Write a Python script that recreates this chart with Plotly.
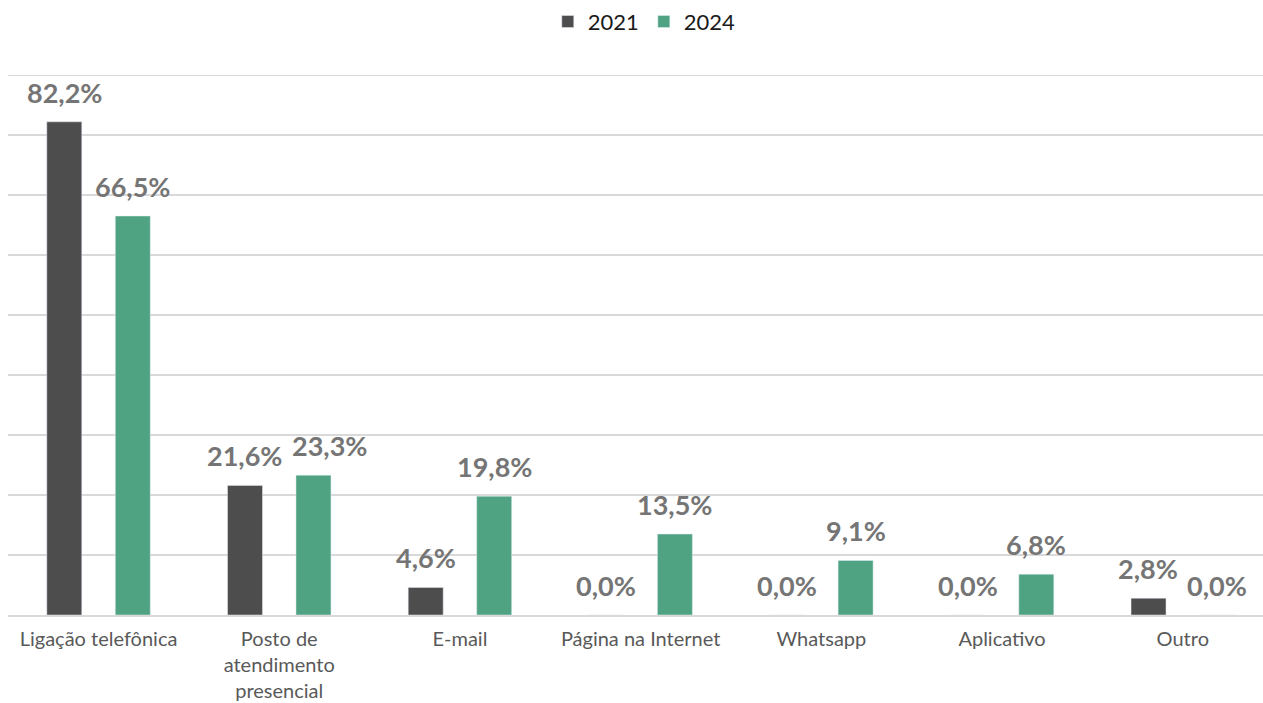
import plotly.graph_objects as go

categories = [
    "Ligação telefônica",
    "Posto de<br>atendimento<br>presencial",
    "E-mail",
    "Página na Internet",
    "Whatsapp",
    "Aplicativo",
    "Outro",
]
values_2021 = [82.2, 21.6, 4.6, 0.0, 0.0, 0.0, 2.8]
values_2024 = [66.5, 23.3, 19.8, 13.5, 9.1, 6.8, 0.0]

series = [("2021", values_2021, "#4d4d4d", -0.19), ("2024", values_2024, "#4fa382", 0.19)]


def pct_label(v):
    return f"{v:.1f}%".replace(".", ",")


fig = go.Figure()
for name, vals, color, _ in series:
    fig.add_trace(go.Bar(name=name, x=categories, y=vals, marker=dict(color=color)))

# value labels above each bar; the 2024 label of the second group is nudged
# right so it does not collide with its neighbour
for name, vals, color, offset in series:
    for i, v in enumerate(vals):
        nudge = 16 if (name == "2024" and i == 1) else 0
        fig.add_annotation(
            x=i + offset, y=v, xref="x", yref="y",
            text=pct_label(v), showarrow=False,
            yanchor="bottom", xanchor="center", yshift=11, xshift=nudge,
            font=dict(family="Lato", size=27, color="#757575", weight="bold"),
        )

# top border line of the value grid
fig.add_shape(type="line", xref="paper", yref="y", x0=0, x1=1, y0=90, y1=90,
              line=dict(color="#d9d9d9", width=2))

fig.update_layout(
    width=1263, height=703,
    margin=dict(l=8, r=0, t=75, b=88),
    paper_bgcolor="white", plot_bgcolor="white",
    barmode="group", bargap=0.242, bargroupgap=0.489,
    font=dict(family="Lato", color="#595959"),
    showlegend=True,
    legend=dict(
        orientation="h", x=0.507, xanchor="center", y=0.999, yref="container",
        yanchor="top", font=dict(size=22, color="#1a1a1a"),
        itemwidth=30, traceorder="normal",
    ),
    xaxis=dict(
        range=[-0.501, 6.444],
        showline=True, linecolor="#d9d9d9", linewidth=2,
        tickfont=dict(size=20, color="#595959"), ticks="",
        ticklabelstandoff=5, automargin=False,
    ),
    yaxis=dict(
        range=[0, 90], dtick=10, showticklabels=False,
        showgrid=True, gridcolor="#d9d9d9", gridwidth=2,
        zeroline=False, automargin=False,
    ),
)

fig.write_html("out.html")
